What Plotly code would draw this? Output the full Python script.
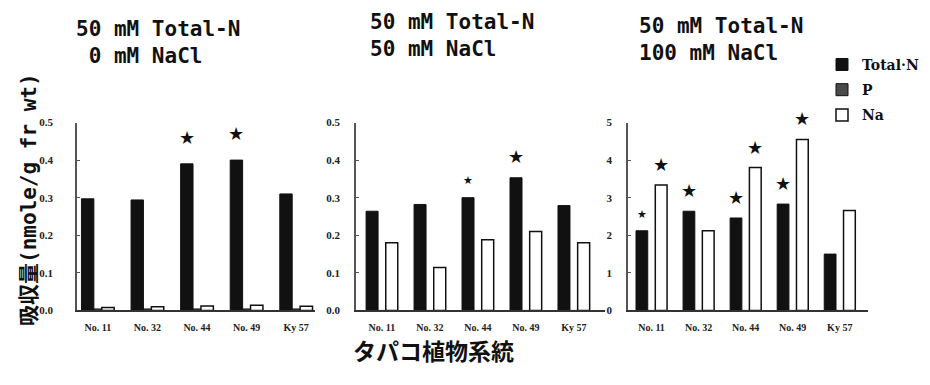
import plotly.graph_objects as go

# ---------------- data ----------------
strains = ["No. 11", "No. 32", "No. 44", "No. 49", "Ky 57"]
series_names = ["Total·N", "P", "Na"]

# panel 1: 50 mM Total-N, 0 mM NaCl
p1_totaln = [0.297, 0.294, 0.390, 0.400, 0.310]
p1_p = [0.004, 0.004, 0.004, 0.004, 0.004]
p1_na = [0.008, 0.010, 0.012, 0.014, 0.011]
# panel 2: 50 mM Total-N, 50 mM NaCl
p2_totaln = [0.264, 0.282, 0.300, 0.353, 0.279]
p2_p = [0, 0, 0, 0, 0]
p2_na = [0.180, 0.114, 0.188, 0.210, 0.180]
# panel 3: 50 mM Total-N, 100 mM NaCl
p3_totaln = [2.12, 2.64, 2.46, 2.83, 1.50]
p3_p = [0, 0, 0, 0, 0]
p3_na = [3.34, 2.12, 3.80, 4.55, 2.66]

# significance stars: 0 = none, 1 = small star, 2 = large star
p1_totaln_sig = [0, 0, 2, 2, 0]
p1_na_sig = [0, 0, 0, 0, 0]
p2_totaln_sig = [0, 0, 1, 2, 0]
p2_na_sig = [0, 0, 0, 0, 0]
p3_totaln_sig = [1, 2, 2, 2, 0]
p3_na_sig = [2, 0, 2, 2, 0]

titles = [
    ["50 mM Total-N", "\u00a00 mM NaCl"],
    ["50 mM Total-N", "50 mM NaCl"],
    ["50 mM Total-N", "100 mM NaCl"],
]
y_title = "吸収量(nmole/g fr wt)"
x_title = "タパコ植物系統"

y_ranges = [[0, 0.5], [0, 0.5], [0, 5]]
y_dticks = [0.1, 0.1, 1]
y_formats = [".1f", ".1f", "d"]

# ---------------- styling ----------------
W, H = 930, 385
PAGE_OFF = 8  # default page body margin shifts the figure by this many pixels


def fx(px):
    return (px - PAGE_OFF) / W


def fy(py):
    return 1 - (py - PAGE_OFF) / H


x_domains = [[fx(77), fx(315)], [fx(356), fx(605)], [fx(628), fx(868)]]
x_ranges = [[-0.42, 4.38], [-0.54, 4.65], [-0.50, 4.60]]
y_domain = [fy(314), fy(120)]
y_standoffs = [20, 12, 12]
title_pos = [(74, 37), (368, 30), (637, 34)]  # left x, vertical centre of the two-line block
star_lift = [14, 9, 8]

bar_style = {
    "Total·N": dict(offset=-0.33, width=0.25, color="#111111", line=dict(color="#111111", width=1)),
    "P": dict(offset=-0.08, width=0.16, color="#4a4a4a", line=dict(color="#111111", width=1)),
    "Na": dict(offset=0.08, width=0.25, color="#ffffff", line=dict(color="#111111", width=1.5)),
}
star_center = {"Total·N": -0.205, "Na": 0.205}
star_size = {1: 11, 2: 18}

tick_font = dict(family="Liberation Serif, DejaVu Serif, serif", size=11, color="#222222", weight="bold")
xtick_font = dict(family="Liberation Serif, DejaVu Serif, serif", size=10, color="#222222", weight="bold")

panels = [
    (p1_totaln, p1_p, p1_na, p1_totaln_sig, p1_na_sig),
    (p2_totaln, p2_p, p2_na, p2_totaln_sig, p2_na_sig),
    (p3_totaln, p3_p, p3_na, p3_totaln_sig, p3_na_sig),
]

fig = go.Figure()
annotations = []

for k, (tn, pp, na, tn_sig, na_sig) in enumerate(panels):
    xa = "x" if k == 0 else f"x{k + 1}"
    ya = "y" if k == 0 else f"y{k + 1}"
    for name, vals in zip(series_names, [tn, pp, na]):
        st = bar_style[name]
        fig.add_trace(go.Bar(
            x=strains, y=vals, name=name, xaxis=xa, yaxis=ya,
            offset=st["offset"], width=st["width"],
            marker=dict(color=st["color"], line=st["line"]),
            legendgroup=name, showlegend=(k == 0),
            hoverinfo="skip",
        ))
    for name, vals, sig in [("Total·N", tn, tn_sig), ("Na", na, na_sig)]:
        for i, (v, s) in enumerate(zip(vals, sig)):
            if s:
                annotations.append(dict(
                    x=i + star_center[name], y=v, xref=xa, yref=ya,
                    text="★", showarrow=False, yanchor="bottom", xanchor="center",
                    yshift=star_lift[k],
                    font=dict(family="DejaVu Sans", size=star_size[s], color="#111111"),
                ))
    # panel title (two lines)
    tx, ty = title_pos[k]
    annotations.append(dict(
        x=fx(tx), y=fy(ty), xref="paper", yref="paper",
        text="<br>".join(titles[k]), showarrow=False,
        xanchor="left", yanchor="middle", align="left",
        font=dict(family="DejaVu Sans Mono", size=21, color="#111111", weight="bold"),
    ))

layout_axes = {}
for k in range(3):
    sx = "xaxis" if k == 0 else f"xaxis{k + 1}"
    sy = "yaxis" if k == 0 else f"yaxis{k + 1}"
    yname = "y" if k == 0 else f"y{k + 1}"
    xname = "x" if k == 0 else f"x{k + 1}"
    layout_axes[sx] = dict(
        domain=x_domains[k], anchor=yname, type="category",
        range=x_ranges[k], showgrid=False, zeroline=False,
        showline=True, linecolor="#333333", linewidth=1.5,
        ticks="", tickfont=xtick_font, ticklabelstandoff=7,
    )
    layout_axes[sy] = dict(
        domain=y_domain, anchor=xname, range=y_ranges[k],
        dtick=y_dticks[k], tick0=0, tickformat=y_formats[k],
        showgrid=False, zeroline=False,
        showline=True, linecolor="#555555", linewidth=1.5,
        ticks="inside", ticklen=3, tickcolor="#555555",
        tickfont=tick_font, ticklabelstandoff=y_standoffs[k],
    )

annotations.append(dict(
    x=fx(29), y=fy(200), xref="paper", yref="paper",
    text=y_title, textangle=-90, showarrow=False,
    xanchor="center", yanchor="middle",
    font=dict(family="DejaVu Sans Mono, Noto Sans CJK JP", size=21, color="#111111", weight="bold"),
))
annotations.append(dict(
    x=fx(433), y=fy(355), xref="paper", yref="paper",
    text=x_title, showarrow=False, xanchor="center", yanchor="middle",
    font=dict(family="Noto Sans CJK JP", size=23, color="#111111", weight="bold"),
))

fig.update_layout(
    width=W, height=H,
    margin=dict(l=0, r=0, t=0, b=0),
    paper_bgcolor="white", plot_bgcolor="white",
    barmode="overlay",
    showlegend=True,
    legend=dict(
        x=814 / W, y=1 - 36 / H, xanchor="left", yanchor="top",
        font=dict(family="DejaVu Serif, serif", size=14, color="#111111", weight="bold"),
        bgcolor="rgba(0,0,0,0)", itemwidth=30, tracegroupgap=4,
    ),
    annotations=annotations,
    **layout_axes,
)

fig.write_html("out.html")
